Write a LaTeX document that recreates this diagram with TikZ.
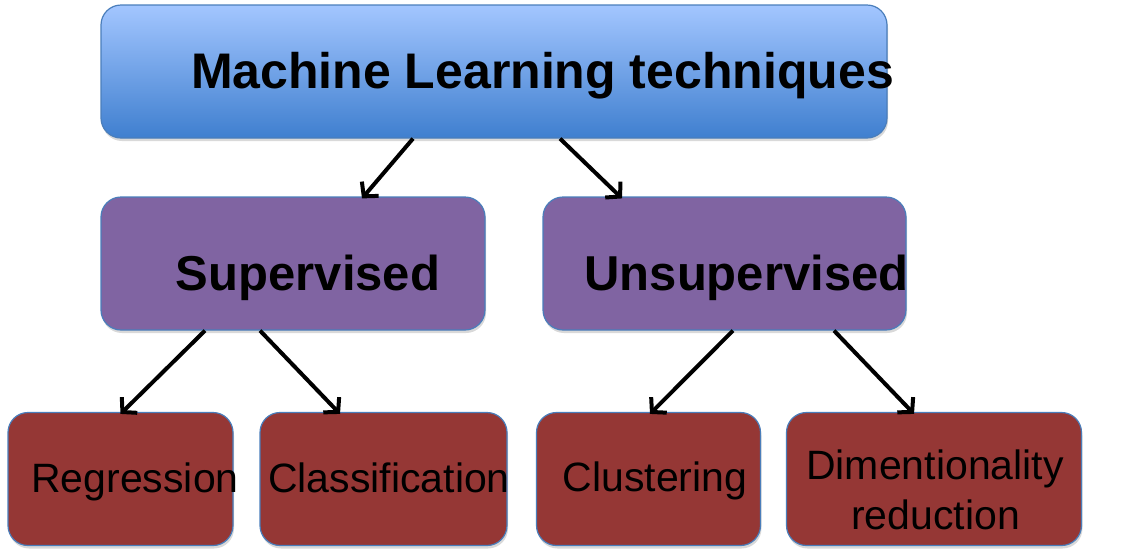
\documentclass[tikz,border=0pt]{standalone}
\usepackage{fontspec}
\setmainfont{Liberation Sans}
\usetikzlibrary{arrows.meta,shadows}
\definecolor{bordblue}{HTML}{4A7EBB}
\definecolor{toplight}{HTML}{A3C6FF}
\definecolor{topdark}{HTML}{3F7FCF}
\definecolor{midpurple}{HTML}{8064A2}
\definecolor{lowred}{HTML}{953735}
\tikzset{
  box/.style={rectangle, rounded corners=20pt, draw=bordblue, line width=1.2pt, inner sep=0pt,
    minimum height=133pt, drop shadow={opacity=0.3, shadow xshift=1pt, shadow yshift=-3pt}},
  topbox/.style={box, top color=toplight, bottom color=topdark},
  midbox/.style={box, fill=midpurple},
  lowbox/.style={box, fill=lowred},
  toptext/.style={anchor=base, inner sep=0pt, font=\fontsize{50}{60}\selectfont\bfseries},
  midtext/.style={anchor=base, inner sep=0pt, font=\fontsize{49}{59}\selectfont\bfseries},
  lowtext/.style={anchor=base, inner sep=0pt, font=\fontsize{41}{51}\selectfont},
  conn/.style={line width=4pt, -{Straight Barb[length=10pt,width=22pt,line width=4pt]}}
}
\begin{document}
\begin{tikzpicture}[x=1pt,y=-1pt]
\useasboundingbox (0,0) rectangle (1133,558);
% boxes
\node[topbox, minimum width=786pt] (ml) at (494,71.5) {};
\node[midbox, minimum width=384pt] (sup) at (293,263.5) {};
\node[midbox, minimum width=363pt] (uns) at (724.5,263.5) {};
\node[lowbox, minimum width=225pt] (reg) at (120.5,479) {};
\node[lowbox, minimum width=247pt] (cls) at (383.5,479) {};
\node[lowbox, minimum width=224pt] (clu) at (648.5,479) {};
\node[lowbox, minimum width=295pt] (dim) at (934,479) {};
% texts
\node[toptext] (mlt) at (542.5,88) {Machine Learning techniques};
\node[midtext] (supt) at (308,290) {Supervised};
\node[midtext] (unst) at (746.5,290) {Unsupervised};
\node[lowtext] (regt) at (135,492) {Regression};
\node[lowtext] (clst) at (389,492) {Classification};
\node[lowtext] (clut) at (655,491) {Clustering};
\node[lowtext] (dimt1) at (935,479) {Dimentionality};
\node[lowtext] (dimt2) at (935.5,529) {reduction};
% connectors
\draw[conn] ([xshift=-81pt]ml.south) -- ([xshift=69pt,yshift=-2pt]sup.north);
\draw[conn] ([xshift=66pt]ml.south) -- ([xshift=-102.5pt,yshift=-2pt]uns.north);
\draw[conn] ([xshift=-88pt]sup.south) -- ([xshift=0pt,yshift=-2pt]reg.north);
\draw[conn] ([xshift=-33pt]sup.south) -- ([xshift=-43.5pt,yshift=-2pt]cls.north);
\draw[conn] ([xshift=8.5pt]uns.south) -- ([xshift=1.5pt,yshift=-2pt]clu.north);
\draw[conn] ([xshift=109.5pt]uns.south) -- ([xshift=-20pt,yshift=-2pt]dim.north);
\end{tikzpicture}
\end{document}
